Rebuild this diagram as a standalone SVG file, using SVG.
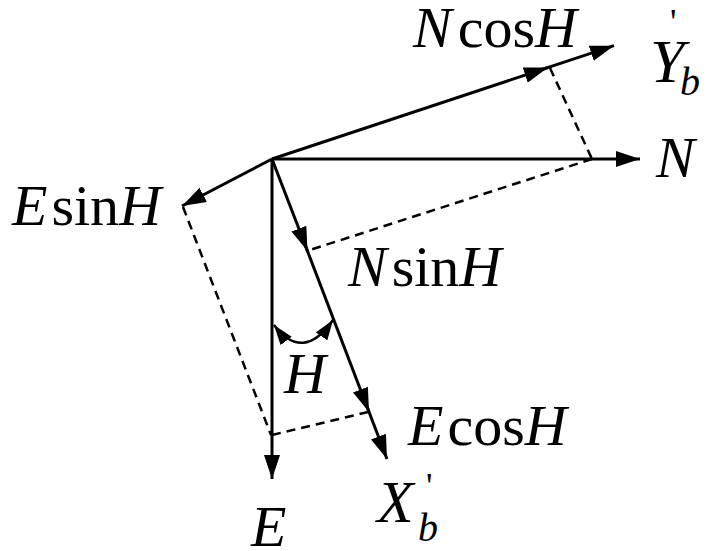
<svg xmlns="http://www.w3.org/2000/svg" width="709" height="551" viewBox="0 0 709 551">
<defs>
<marker id="ah" viewBox="0 0 24 16" refX="24" refY="8" markerWidth="24" markerHeight="16" markerUnits="userSpaceOnUse" orient="auto-start-reverse">
<path d="M0,0 L24,8 L0,16 Z" fill="#000"/>
</marker>
<marker id="ahs" viewBox="0 0 20 14" refX="20" refY="7" markerWidth="20" markerHeight="14" markerUnits="userSpaceOnUse" orient="auto-start-reverse">
<path d="M0,0 L20,7 L0,14 Z" fill="#000"/>
</marker>
</defs>
<style>
.ax{stroke:#000;stroke-width:3;fill:none;marker-end:url(#ah)}
.ds{stroke:#000;stroke-width:2.5;fill:none;stroke-dasharray:9,6}
</style>
<rect width="709" height="551" fill="#fff"/>
<g id="connectors">
<line class="ax" x1="272" y1="159" x2="640" y2="159"/>
<line class="ax" x1="272" y1="159" x2="272" y2="479"/>
<line class="ax" x1="272" y1="159" x2="548" y2="67.5"/>
<line class="ax" x1="540" y1="70.2" x2="614" y2="45.7"/>
<line class="ax" x1="272" y1="159" x2="307.5" y2="251"/>
<line class="ax" x1="304" y1="242" x2="369" y2="412"/>
<line class="ax" x1="366" y1="404" x2="387" y2="459"/>
<line class="ax" x1="272" y1="159" x2="182" y2="206"/>
<path d="M274,325 Q303,363 333,320" stroke="#000" stroke-width="2.5" fill="none" marker-start="url(#ahs)" marker-end="url(#ahs)"/>
<line class="ds" x1="550" y1="68" x2="592" y2="159"/>
<line class="ds" x1="592" y1="159" x2="310" y2="250"/>
<line class="ds" x1="183" y1="207" x2="271" y2="435"/>
<line class="ds" x1="272" y1="435" x2="368" y2="412"/>
</g>
<g font-family="'Liberation Serif', 'Times New Roman', serif" font-size="58" fill="#000">
<g id="label-NcosH"><text x="413" y="47"><tspan font-style="italic">N</tspan><tspan dx="6">cos</tspan><tspan font-style="italic">H</tspan></text></g>
<g id="label-Yb"><text font-style="italic" font-size="62" x="650" y="82">Y</text><text font-style="italic" font-size="40" x="680" y="95">b</text><text font-size="36" x="670" y="34">'</text></g>
<g id="label-N"><text font-style="italic" x="656" y="177">N</text></g>
<g id="label-EsinH"><text x="12" y="225"><tspan font-style="italic">E</tspan><tspan dx="4">sin</tspan><tspan font-style="italic">H</tspan></text></g>
<g id="label-NsinH"><text x="348" y="286"><tspan font-style="italic">N</tspan><tspan dx="5">sin</tspan><tspan font-style="italic">H</tspan></text></g>
<g id="label-H"><text font-style="italic" x="284" y="393">H</text></g>
<g id="label-EcosH"><text x="408" y="445"><tspan font-style="italic">E</tspan><tspan dx="4">cos</tspan><tspan font-style="italic">H</tspan></text></g>
<g id="label-E"><text font-style="italic" x="251" y="546">E</text></g>
<g id="label-Xb"><text font-style="italic" font-size="60" x="377" y="522">X</text><text font-style="italic" font-size="40" x="418" y="541">b</text><text font-size="36" x="426" y="498">'</text></g>
</g>
</svg>
